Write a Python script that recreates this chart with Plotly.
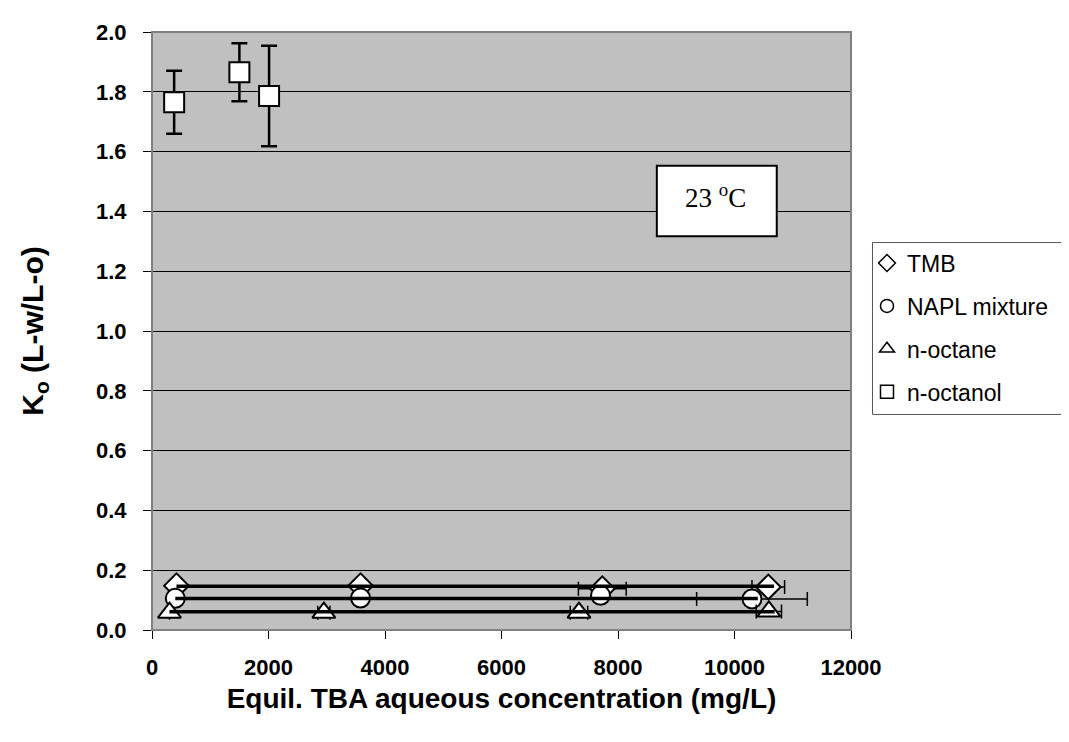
import plotly.graph_objects as go

# ---- data ----
tmb_x = [420, 3580, 7730, 10580]
tmb_y = [0.148, 0.148, 0.138, 0.144]
tmb_xerr = [0, 0, 410, 280]
tmb_mean = 0.146

napl_x = [400, 3580, 7700, 10300]
napl_y = [0.106, 0.107, 0.116, 0.104]
napl_xerr = [0, 0, 0, 950]
napl_mean = 0.105

oct_x = [300, 2950, 7330, 10590]
oct_y = [0.058, 0.058, 0.058, 0.062]
oct_xerr = [0, 105, 150, 217]
oct_mean = 0.061

ol_x = [380, 1500, 2010]
ol_y = [1.765, 1.865, 1.786]
ol_yerr = [0.105, 0.097, 0.168]

series_names = ["TMB", "NAPL mixture", "n-octane", "n-octanol"]
symbols = ["diamond", "circle", "triangle-up", "square"]

FONT = "Liberation Sans, Arial, sans-serif"

# page geometry (body has an 8px margin)
PL, PR, PT, PB = 151.5, 851.0, 23.3, 630.3   # plot area in page pixels
W, H = 1061, 734
OFF = 8

def py(y):  # page y -> paper y
    return (PB - y) / (PB - PT)

def px(x):  # page x -> paper x
    return (x - PL) / (PR - PL)

fig = go.Figure()

def marker(sym, size):
    return dict(symbol=sym, size=size, color="white", line=dict(color="black", width=2))

xe = dict(type="data", symmetric=True, color="black", thickness=1.5, width=7)

fig.add_trace(go.Scatter(x=tmb_x, y=tmb_y, mode="markers", name=series_names[0],
                         showlegend=False, marker=marker("diamond", 19),
                         error_x=dict(xe, array=tmb_xerr)))
fig.add_trace(go.Scatter(x=napl_x, y=napl_y, mode="markers", name=series_names[1],
                         showlegend=False, marker=marker("circle", 19),
                         error_x=dict(xe, array=napl_xerr)))
fig.add_trace(go.Scatter(x=oct_x, y=oct_y, mode="markers", name=series_names[2],
                         showlegend=False, marker=marker("triangle-up", 20),
                         error_x=dict(xe, array=oct_xerr)))
fig.add_trace(go.Scatter(x=ol_x, y=ol_y, mode="markers", name=series_names[3],
                         showlegend=False, marker=marker("square", 20),
                         error_y=dict(type="data", array=ol_yerr, symmetric=True,
                                      color="black", thickness=2.5, width=8)))

# thick mean lines drawn over the markers
for xs, m in [(tmb_x, tmb_mean), (napl_x, napl_mean), (oct_x, oct_mean)]:
    fig.add_trace(go.Scatter(x=[xs[0], max(xs) + 100], y=[m, m], mode="lines",
                             line=dict(color="black", width=3.5), showlegend=False,
                             hoverinfo="skip"))

# legend entries (smaller symbols as in the reference)
for i, (nm, sym) in enumerate(zip(series_names, symbols)):
    fig.add_trace(go.Scatter(x=[None], y=[None], mode="markers", name=nm,
                             legendgroup=str(i),
                             marker=dict(symbol=sym + "-open", size=13, color="black",
                                         line=dict(color="black", width=1.5))))

# plot-area frame (grey) and temperature box
fig.add_shape(type="rect", xref="paper", yref="paper", x0=0, x1=1, y0=0, y1=1,
              line=dict(color="#808080", width=2), layer="above")
fig.add_shape(type="rect", xref="paper", yref="paper", x0=px(656.7), x1=px(776.7),
              y0=py(230.7), y1=py(159), line=dict(color="black", width=2),
              fillcolor="white", layer="above")
fig.add_annotation(xref="paper", yref="paper", x=px(715), y=py(190),
                   xanchor="center", yanchor="middle",
                   text="23 <sup>o</sup>C", showarrow=False,
                   font=dict(family="Liberation Serif, Times New Roman, serif", size=27, color="black"))

# legend frame
fig.add_shape(type="rect", xref="paper", yref="paper", x0=px(872.5), x1=px(1100),
              y0=py(411.5), y1=py(237),
              line=dict(color="#555555", width=1), fillcolor="white", layer="below")

fig.update_layout(
    width=W, height=H,
    margin=dict(l=PL - OFF, r=W - (PR - OFF), t=PT - OFF, b=H - (PB - OFF)),
    paper_bgcolor="white", plot_bgcolor="#C0C0C0",
    font=dict(family=FONT, color="black"),
    showlegend=True,
    legend=dict(x=px(867), y=py(236), xanchor="left", yanchor="top",
                bgcolor="rgba(0,0,0,0)", borderwidth=0, itemwidth=30,
                tracegroupgap=10, font=dict(family=FONT, size=23, color="black")),
    xaxis=dict(range=[0, 12000], dtick=2000, tick0=0, tickformat="d",
               showgrid=False, zeroline=False,
               showline=True, linecolor="black", linewidth=1,
               ticks="outside", ticklen=8, tickcolor="black", ticklabelstandoff=10,
               tickfont=dict(family=FONT, size=22, color="black", weight="bold"),
               title=dict(text="<b>Equil. TBA aqueous concentration (mg/L)</b>",
                          font=dict(family=FONT, size=28, color="black"), standoff=8)),
    yaxis=dict(range=[0, 2.0], dtick=0.2, tick0=0, tickformat=".1f",
               showgrid=True, gridcolor="black", gridwidth=1, zeroline=False,
               showline=True, linecolor="black", linewidth=1,
               ticks="outside", ticklen=8, tickcolor="black", ticklabelstandoff=12,
               tickfont=dict(family=FONT, size=22, color="black", weight="bold"),
               title=dict(text="<b>K<sub>o</sub> (L-w/L-o)</b>",
                          font=dict(family=FONT, size=30, color="black"), standoff=43)),
)

fig.write_html("out.html")
